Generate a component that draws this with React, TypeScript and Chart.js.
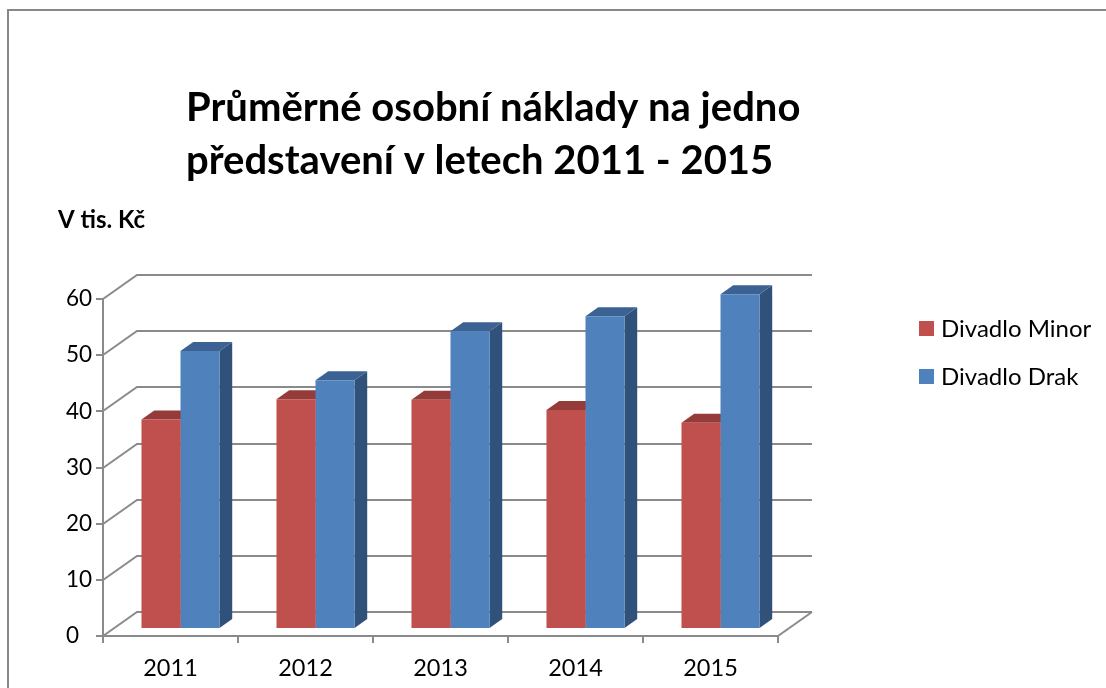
import React, { useEffect, useRef } from "react";
import { Chart, registerables } from "chart.js";

Chart.register(...registerables);

// ---------------- data ----------------
const categories = ["2011", "2012", "2013", "2014", "2015"];
const seriesNames = ["Divadlo Minor", "Divadlo Drak"];
const minorValues = [37.3, 40.9, 40.8, 39.0, 36.7];
const drakValues = [49.5, 44.3, 53.0, 55.7, 59.6];
const titleLines = ["Průměrné osobní náklady na jedno", "představení v letech 2011 - 2015"];
const yAxisCaption = "V tis. Kč";
const yMin = 0;
const yMax = 60;
const yStep = 10;

// ---------------- style ----------------
const FONT = "Lato, 'Open Sans', sans-serif";
const GRID = "#8a8a8a";
const DEPTH_X = 34;
const DEPTH_Y = 24;
const BAR_SHIFT_X = 10;
const BAR_SHIFT_Y = 7;
const BAR_DX = 12.7;
const BAR_DY = 9;
const faceColors = [
  { front: "#C0504D", top: "#953B39", side: "#8C3735" },
  { front: "#4F81BD", top: "#3B6293", side: "#30527A" },
];

const threeD = {
  id: "threeD",
  beforeDatasetsDraw(chart: any) {
    const { ctx, chartArea, scales } = chart;
    const y = scales.y;
    ctx.save();
    ctx.strokeStyle = GRID;
    ctx.lineWidth = 2;
    ctx.lineJoin = "miter";
    y.ticks.forEach((t: any) => {
      const py = Math.round(y.getPixelForValue(t.value));
      ctx.beginPath();
      ctx.moveTo(chartArea.left, py);
      ctx.lineTo(chartArea.left + DEPTH_X, py - DEPTH_Y);
      ctx.lineTo(chartArea.right + DEPTH_X, py - DEPTH_Y);
      ctx.stroke();
    });
    const py0 = Math.round(y.getPixelForValue(yMin));
    ctx.beginPath();
    ctx.moveTo(chartArea.right, py0);
    ctx.lineTo(chartArea.right + DEPTH_X, py0 - DEPTH_Y);
    ctx.stroke();

    // side & top faces of the bars (beneath the front faces)
    ctx.translate(BAR_SHIFT_X, -BAR_SHIFT_Y);
    chart.data.datasets.forEach((_: any, di: number) => {
      const meta = chart.getDatasetMeta(di);
      const c = faceColors[di];
      meta.data.forEach((bar: any) => {
        const { x, y: yt, base, width } = bar.getProps(["x", "y", "base", "width"], true);
        const x1 = x - width / 2;
        const x2 = x + width / 2;
        ctx.fillStyle = c.side;
        ctx.beginPath();
        ctx.moveTo(x2, yt);
        ctx.lineTo(x2 + BAR_DX, yt - BAR_DY);
        ctx.lineTo(x2 + BAR_DX, base - BAR_DY);
        ctx.lineTo(x2, base);
        ctx.closePath();
        ctx.fill();
        ctx.fillStyle = c.top;
        ctx.beginPath();
        ctx.moveTo(x1, yt);
        ctx.lineTo(x1 + BAR_DX, yt - BAR_DY);
        ctx.lineTo(x2 + BAR_DX, yt - BAR_DY);
        ctx.lineTo(x2, yt);
        ctx.closePath();
        ctx.fill();
      });
    });
    ctx.restore();
  },
  beforeDatasetDraw(chart: any) {
    chart.ctx.save();
    chart.ctx.translate(BAR_SHIFT_X, -BAR_SHIFT_Y);
  },
  afterDatasetDraw(chart: any) {
    chart.ctx.restore();
  },
  afterDraw(chart: any) {
    const { ctx } = chart;
    ctx.save();
    ctx.fillStyle = "#000";
    ctx.textAlign = "left";
    ctx.textBaseline = "alphabetic";
    ctx.font = `bold 40px ${FONT}`;
    ctx.fillText(titleLines[0], 186, 121);
    ctx.fillText(titleLines[1], 186, 174);
    ctx.font = `bold 24px ${FONT}`;
    ctx.fillText(yAxisCaption, 58, 228);
    // legend
    ctx.font = `24px ${FONT}`;
    ctx.textBaseline = "middle";
    chart.data.datasets.forEach((ds: any, i: number) => {
      const yy = 328 + i * 48;
      ctx.fillStyle = ds.backgroundColor;
      ctx.fillRect(919, yy - 7, 15, 15);
      ctx.fillStyle = "#000";
      ctx.fillText(ds.label, 941, yy + 1);
    });
    ctx.restore();
  },
};

export default function App() {
  const ref = useRef<HTMLCanvasElement | null>(null);
  useEffect(() => {
    if (!ref.current) return;
    const chart = new Chart(ref.current, {
      type: "bar",
      data: {
        labels: categories,
        datasets: [
          { label: seriesNames[0], data: minorValues, backgroundColor: faceColors[0].front, clip: false as any },
          { label: seriesNames[1], data: drakValues, backgroundColor: faceColors[1].front, clip: false as any },
        ],
      },
      options: {
        responsive: false,
        animation: false,
        devicePixelRatio: 1,
        datasets: { bar: { categoryPercentage: 0.578, barPercentage: 1.0 } },
        layout: { padding: { left: 66, right: 328, top: 299, bottom: 0 } },
        plugins: {
          legend: { display: false },
          title: { display: false },
          tooltip: { enabled: false },
        },
        scales: {
          x: {
            offset: true,
            grid: { display: true, offset: true, drawOnChartArea: false, drawTicks: true, tickLength: 7, color: GRID, lineWidth: 2 },
            border: { display: true, color: GRID, width: 2 },
            ticks: { font: { family: FONT, size: 23.5 }, color: "#000", padding: 11 },
            afterFit: (s: any) => { s.height = 52; },
          },
          y: {
            min: yMin,
            max: yMax,
            grid: { drawOnChartArea: false, drawTicks: true, tickLength: 7, color: GRID, lineWidth: 2 },
            border: { display: true, color: GRID, width: 2 },
            ticks: { stepSize: yStep, crossAlign: "far", font: { family: FONT, size: 22.5 }, color: "#000", padding: 8 },
            afterFit: (s: any) => { s.width = 37; },
          },
        },
      },
      plugins: [threeD],
    });
    return () => chart.destroy();
  }, []);

  return (
    <div style={{ position: "fixed", left: 0, top: 0, width: 1106, height: 688, overflow: "hidden", background: "#fff" }}>
      <div
        style={{
          position: "absolute",
          left: 7,
          top: 9,
          width: 1120,
          height: 720,
          border: "2px solid #888",
          boxSizing: "border-box",
        }}
      />
      <canvas ref={ref} width={1106} height={688} style={{ position: "absolute", left: 0, top: 0, width: 1106, height: 688 }} />
    </div>
  );
}
